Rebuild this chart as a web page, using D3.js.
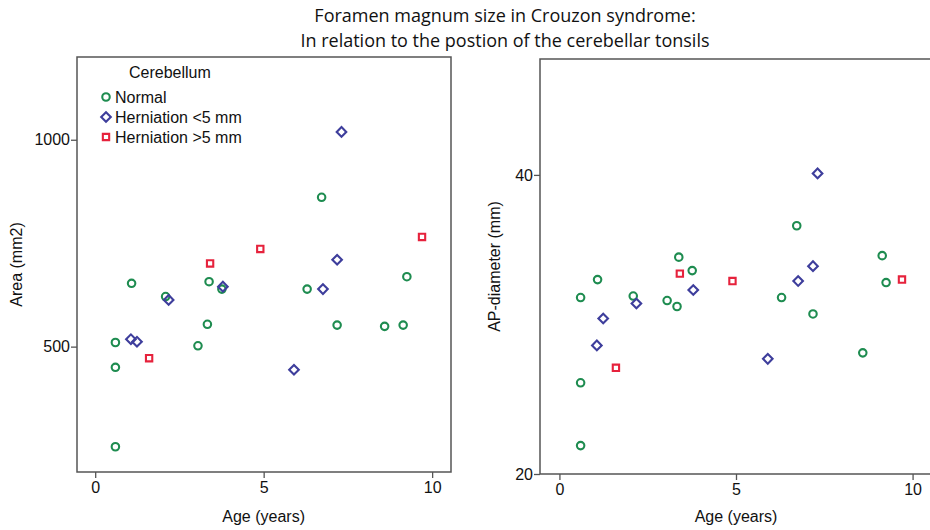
<!DOCTYPE html>
<html>
<head>
<meta charset="utf-8">
<script src="https://cdn.jsdelivr.net/npm/d3@7"></script>
<style>
  html, body { margin: 0; padding: 0; background: #fff; }
  svg { display: block; }
  .tick text { font-family: "Liberation Sans", Arial, sans-serif; font-size: 16px; fill: #111; }
</style>
</head>
<body>
<svg id="chart" width="930" height="530"></svg>
<script>
// Group names and legend labels
const groups = ["normal", "herniationSmall", "herniationLarge"];
const groupLabels = ["Normal", "Herniation <5 mm", "Herniation >5 mm"];
const groupColors = ["#1e8c50", "#3e3e9c", "#e6223c"];

// Normal cerebellum: age (years), foramen area (mm2), AP-diameter (mm)
const normalAge  = [0.6, 0.6, 0.6, 1.08, 2.09, 3.05, 3.33, 3.38, 3.76, 6.29, 6.72, 7.18, 8.59, 9.14, 9.25];
const normalArea = [510, 450, 258, 653, 621, 502, 554, 657, 639, 639, 861, 552, 549, 552, 669];
const normalAP   = [31.8, 26.1, 21.9, 33.0, 31.9, 31.6, 31.2, 34.5, 33.6, 31.8, 36.6, 30.7, 28.1, 34.6, 32.8];

// Tonsillar herniation < 5 mm
const smallAge  = [1.06, 1.24, 2.18, 3.79, 5.90, 6.76, 7.18, 7.31];
const smallArea = [518, 512, 613, 645, 444, 639, 710, 1019];
const smallAP   = [28.6, 30.4, 31.4, 32.3, 27.7, 32.9, 33.9, 40.1];

// Tonsillar herniation > 5 mm
const largeAge  = [1.60, 3.41, 4.90, 9.70];
const largeArea = [472, 701, 736, 765];
const largeAP   = [27.1, 33.4, 32.9, 33.0];

// Axis ticks and labels
const ageTicks  = [0, 5, 10];
const areaTicks = [500, 1000];
const apTicks   = [20, 40];
const titleLines = ["Foramen magnum size in Crouzon syndrome:",
                    "In relation to the postion of the cerebellar tonsils"];

const ages = [normalAge, smallAge, largeAge];
const areas = [normalArea, smallArea, largeArea];
const aps = [normalAP, smallAP, largeAP];

const svg = d3.select("#chart");
const axisFont = '"Liberation Sans", Arial, sans-serif';

// Title
svg.append("g").selectAll("text").data(titleLines).join("text")
  .attr("x", 505)
  .attr("y", (d, i) => 22 + i * 25)
  .attr("text-anchor", "middle")
  .style("font-family", '"Open Sans", "Noto Sans", sans-serif')
  .style("font-size", "18px")
  .style("fill", "#111")
  .text(d => d);

// Marker path generators: circle, diamond (rotated square), square
function markerPath(g) {
  if (g === 0) return d3.symbol(d3.symbolCircle, 44)();
  return d3.symbol(d3.symbolSquare, g === 1 ? 46 : 40)();
}
function markerTransform(g, x, y) {
  return g === 1 ? `translate(${x},${y}) rotate(45)` : `translate(${x},${y})`;
}

function drawPanel(cfg) {
  const { left, right, top, bottom, xDomain, yDomain, yTicks, yValues, yLabel, yLabelX } = cfg;
  const x = d3.scaleLinear().domain(xDomain).range([left, right]);
  const y = d3.scaleLinear().domain(yDomain).range([bottom, top]);
  const g = svg.append("g");

  // Frame
  g.append("rect")
    .attr("x", left).attr("y", top)
    .attr("width", right - left).attr("height", bottom - top)
    .attr("fill", "none").attr("stroke", "#555").attr("stroke-width", 1.5);

  // Axes
  const xAxis = g.append("g").attr("transform", `translate(0,${bottom})`)
    .call(d3.axisBottom(x).tickValues(ageTicks).tickSize(6).tickPadding(4).tickFormat(d3.format("d")));
  const yAxis = g.append("g").attr("transform", `translate(${left},0)`)
    .call(d3.axisLeft(y).tickValues(yTicks).tickSize(6).tickPadding(1).tickFormat(d3.format("d")));
  [xAxis, yAxis].forEach(a => {
    a.select(".domain").remove();
    a.selectAll(".tick line").attr("stroke", "#555").attr("stroke-width", 1.3);
  });

  // Axis titles
  g.append("text")
    .attr("x", x(5))
    .attr("y", 522)
    .attr("text-anchor", "middle")
    .style("font-family", axisFont).style("font-size", "16px").style("fill", "#111")
    .text("Age (years)");
  g.append("text")
    .attr("transform", `translate(${yLabelX},${(top + bottom) / 2}) rotate(-90)`)
    .attr("text-anchor", "middle")
    .style("font-family", axisFont).style("font-size", "16px").style("fill", "#111")
    .text(yLabel);

  // Points
  groups.forEach((name, gi) => {
    g.append("g").attr("class", name).selectAll("path")
      .data(d3.range(ages[gi].length))
      .join("path")
      .attr("d", markerPath(gi))
      .attr("transform", i => markerTransform(gi, x(ages[gi][i]), y(yValues[gi][i])))
      .attr("fill", "none")
      .attr("stroke", groupColors[gi])
      .attr("stroke-width", 2.1);
  });
  return { x, y };
}

// Left panel: foramen area
drawPanel({
  left: 77, right: 451, top: 57, bottom: 472,
  xDomain: [-0.54, 10.56], yDomain: [197, 1200],
  yTicks: areaTicks, yValues: areas, yLabel: "Area (mm2)", yLabelX: 22
});

// Right panel: AP diameter
drawPanel({
  left: 540, right: 932, top: 59, bottom: 474,
  xDomain: [-0.55, 10.55], yDomain: [20, 47.75],
  yTicks: apTicks, yValues: aps, yLabel: "AP-diameter (mm)", yLabelX: 500
});

// Legend
const legend = svg.append("g");
legend.append("text")
  .attr("x", 129).attr("y", 78)
  .style("font-family", axisFont).style("font-size", "16px").style("fill", "#111")
  .text("Cerebellum");
groupLabels.forEach((label, gi) => {
  const cy = 98 + gi * 20;
  legend.append("path")
    .attr("d", markerPath(gi))
    .attr("transform", markerTransform(gi, 106, cy - 1))
    .attr("fill", "none").attr("stroke", groupColors[gi]).attr("stroke-width", 2.1);
  legend.append("text")
    .attr("x", 115).attr("y", cy + 5)
    .style("font-family", axisFont).style("font-size", "16px").style("fill", "#111")
    .text(label);
});
</script>
</body>
</html>
